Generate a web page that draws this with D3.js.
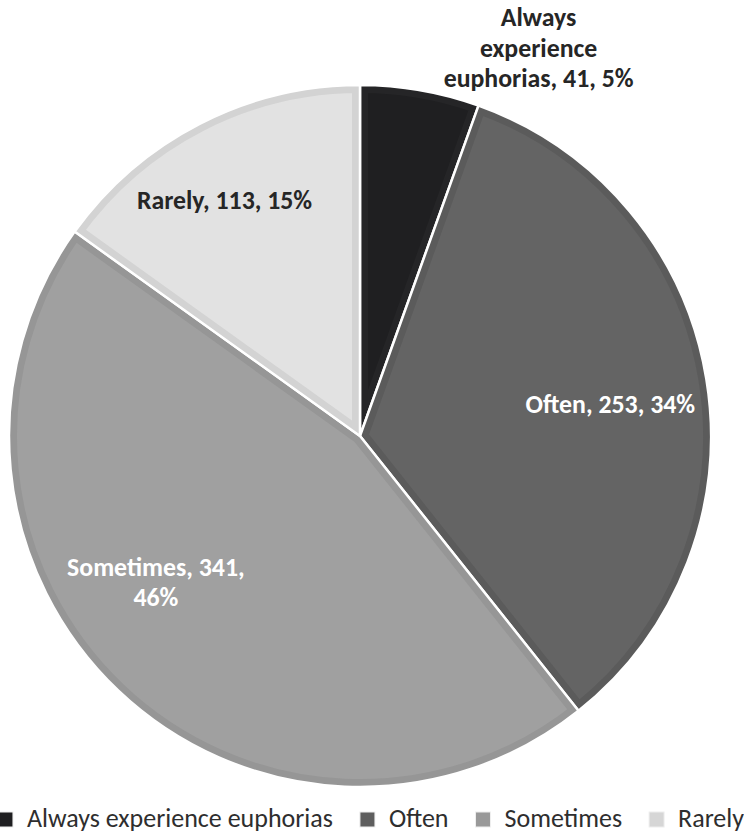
<!DOCTYPE html>
<html>
<head>
<meta charset="utf-8">
<script src="https://cdn.jsdelivr.net/npm/d3@7"></script>
<style>
  html, body { margin: 0; padding: 0; background: #fff; }
  svg { display: block; }
</style>
</head>
<body>
<svg id="chart" width="744" height="835"></svg>
<script>
// Frequency of euphoric experiences
const categories = ["Always experience euphorias", "Often", "Sometimes", "Rarely"];
const counts = [41, 253, 341, 113];
const percents = [5, 34, 46, 15];

// Slice styling (interior fill, edge band, label colour)
const fills = ["#1f1f21", "#646464", "#a0a0a0", "#e2e2e2"];
const bands = ["#252527", "#5b5b5b", "#969696", "#d3d3d3"];
const labelColors = ["#262626", "#ffffff", "#ffffff", "#262626"];
const legendFills = ["#1f1f21", "#5e5e5e", "#999999", "#d6d6d6"];
// words per line for each data label
const labelLineWords = [[1, 1, 3], [3], [2, 1], [3]];
// label nudges from the arc centroid
const labelNudge = [[0, 0], [1, 10], [-30, -36], [-20, -10]];

const FONT = "Carlito, Calibri, Lato, 'Open Sans', sans-serif";
const cx = 360, cy = 436, R = 351;
const BAND = 8;

const data = categories.map((c, i) => ({ name: c, count: counts[i], pct: percents[i], i }));

const svg = d3.select("#chart");
const defs = svg.append("defs");

const pie = d3.pie().sort(null).value(d => d.count).startAngle(0).endAngle(2 * Math.PI);
const arcs = pie(data);
const arc = d3.arc().innerRadius(0).outerRadius(R);

const g = svg.append("g").attr("transform", `translate(${cx},${cy})`);

// clip paths so the edge band stays inside each slice
arcs.forEach((a, i) => {
  defs.append("clipPath").attr("id", "clip" + i)
    .append("path").attr("d", arc(a));
});

const slices = g.selectAll("g.slice").data(arcs).join("g").attr("class", "slice");
slices.append("path")
  .attr("d", arc)
  .attr("fill", d => fills[d.data.i])
  .attr("stroke", d => bands[d.data.i])
  .attr("stroke-width", BAND * 2)
  .attr("clip-path", (d, i) => `url(#clip${i})`);
// white separators
slices.append("path")
  .attr("d", arc)
  .attr("fill", "none")
  .attr("stroke", "#ffffff")
  .attr("stroke-width", 2.5)
  .attr("stroke-linejoin", "round");

// data labels
const labelArc = d3.arc().innerRadius(R * 0.72).outerRadius(R * 0.72);
const FS = 25.8, LH = 30.5;

arcs.forEach((a, i) => {
  const d = a.data;
  const words = `${d.name}, ${d.count}, ${d.pct}%`.split(" ");
  const lines = [];
  let k = 0;
  labelLineWords[i].forEach(n => { lines.push(words.slice(k, k + n).join(" ")); k += n; });
  let [x, y] = labelArc.centroid(a);
  if (d.pct < 10) {
    // small slice: label sits outside, above the slice
    const ang = (a.startAngle + a.endAngle) / 2 + 0.26;
    x = Math.sin(ang) * R * 1.215;
    y = -Math.cos(ang) * R * 1.215;
  }
  x += labelNudge[i][0];
  y += labelNudge[i][1];
  const t = g.append("text")
    .attr("text-anchor", "middle")
    .attr("font-family", FONT)
    .attr("font-weight", "bold")
    .attr("font-size", FS)
    .attr("fill", labelColors[i]);
  const y0 = y - (lines.length - 1) * LH / 2 + FS * 0.31;
  lines.forEach((ln, j) => {
    t.append("tspan").attr("x", x).attr("y", y0 + j * LH).text(ln);
  });
});

// legend
const LFS = 26, SQ = 15, SQGAP = 14, ITEMGAP = 27;
const legend = svg.append("g").attr("class", "legend");
const items = legend.selectAll("g").data(data).join("g");
items.append("rect")
  .attr("width", SQ).attr("height", SQ)
  .attr("y", -SQ)
  .attr("fill", d => legendFills[d.i])
  .attr("stroke", "#eeeeee").attr("stroke-width", 1);
items.append("text")
  .attr("x", SQ + SQGAP)
  .attr("font-family", FONT)
  .attr("font-size", LFS)
  .attr("fill", "#2e2e2e")
  .text(d => d.name);
const widths = [];
items.each(function () {
  const tw = d3.select(this).select("text").node().getComputedTextLength();
  widths.push(SQ + SQGAP + tw);
});
const total = d3.sum(widths) + ITEMGAP * (widths.length - 1);
let xpos = 371 - total / 2;
items.attr("transform", (d, i) => {
  const tx = xpos;
  xpos += widths[i] + ITEMGAP;
  return `translate(${tx},827)`;
});
</script>
</body>
</html>
